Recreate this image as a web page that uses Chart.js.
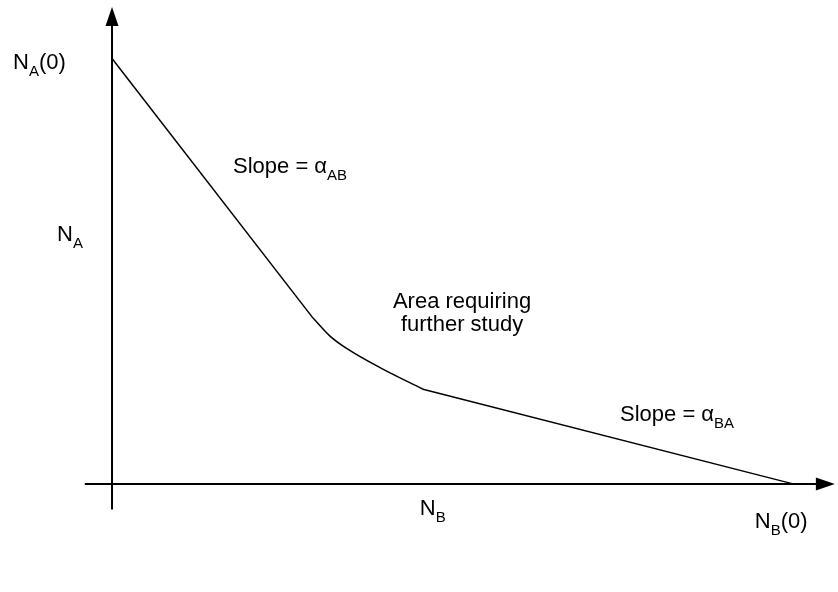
<!DOCTYPE html>
<html>
<head>
<meta charset="utf-8">
<script src="https://cdn.jsdelivr.net/npm/chart.js@4/dist/chart.umd.min.js"></script>
<style>
html,body{margin:0;padding:0;background:#fff;}
#wrap{width:838px;height:592px;position:relative;}
</style>
</head>
<body>
<div id="wrap"><canvas id="c"></canvas></div>
<script>
// Curve N_A versus N_B (fractions of N_B(0) and N_A(0))
const curveNB = [0, 0.2952, 0.3201, 0.3451, 0.3935, 0.4567, 1];
const curveNA = [1, 0.3898, 0.3475, 0.3178, 0.2733, 0.2225, 0];
// indices where the bent ("further study") part begins and ends
const bendStart = 1, bendEnd = 5;

// Text annotations
const labelMain = ["N", "Slope = \u03B1", "N", "Area requiring", "further study", "Slope = \u03B1", "N", "N"];
const labelSub  = ["A", "AB", "A", "", "", "BA", "B", "B"];
const labelTail = ["(0)", "", "", "", "", "", "", "(0)"];

const anchors = [
  {x:-0.1454, y:0.9746, align:'left'},
  {x:0.1777, y:0.7309, align:'left'},
  {x:-0.0808, y:0.5699, align:'left'},
  {x:0.514, y:0.4131, align:'center'},
  {x:0.514, y:0.3602, align:'center'},
  {x:0.746, y:0.1483, align:'left'},
  {x:0.452, y:-0.0742, align:'left'},
  {x:0.944, y:-0.1038, align:'left'}
];

const FONT = '"Liberation Sans", Arial, sans-serif';
const MAIN = 22, SUB = 15;

const pts = curveNB.map((v, i) => ({x: v, y: curveNA[i]}));

const axesPlugin = {
  id: 'axesPlugin',
  afterDatasetsDraw(chart) {
    const ctx = chart.ctx, xs = chart.scales.x, ys = chart.scales.y;
    const x0 = xs.getPixelForValue(0), y0 = ys.getPixelForValue(0);
    ctx.save();
    ctx.strokeStyle = '#000'; ctx.fillStyle = '#000'; ctx.lineWidth = 2;
    // y axis
    const yTop = ys.getPixelForValue(1.121), yBot = ys.getPixelForValue(-0.06);
    ctx.beginPath(); ctx.moveTo(x0, yBot); ctx.lineTo(x0, yTop + 14); ctx.stroke();
    ctx.beginPath(); ctx.moveTo(x0, yTop); ctx.lineTo(x0 - 6.5, yTop + 19); ctx.lineTo(x0 + 6.5, yTop + 19); ctx.closePath(); ctx.fill();
    // x axis
    const xL = xs.getPixelForValue(-0.04), xR = xs.getPixelForValue(1.0615);
    ctx.beginPath(); ctx.moveTo(xL, y0); ctx.lineTo(xR - 14, y0); ctx.stroke();
    ctx.beginPath(); ctx.moveTo(xR, y0); ctx.lineTo(xR - 19, y0 - 6.5); ctx.lineTo(xR - 19, y0 + 6.5); ctx.closePath(); ctx.fill();
    // labels
    ctx.textBaseline = 'alphabetic';
    for (let i = 0; i < labelMain.length; i++) {
      const a = anchors[i];
      let px = xs.getPixelForValue(a.x), py = ys.getPixelForValue(a.y);
      ctx.font = MAIN + 'px ' + FONT;
      const w1 = ctx.measureText(labelMain[i]).width;
      const w3 = ctx.measureText(labelTail[i]).width;
      ctx.font = SUB + 'px ' + FONT;
      const w2 = ctx.measureText(labelSub[i]).width;
      const total = w1 + w2 + w3;
      if (a.align === 'center') px -= total / 2;
      ctx.textAlign = 'left';
      ctx.font = MAIN + 'px ' + FONT;
      ctx.fillText(labelMain[i], px, py);
      ctx.font = SUB + 'px ' + FONT;
      ctx.fillText(labelSub[i], px + w1, py + 7);
      ctx.font = MAIN + 'px ' + FONT;
      ctx.fillText(labelTail[i], px + w1 + w2, py);
    }
    ctx.restore();
  }
};

const lineStyle = {showLine: true, borderColor: '#000', borderWidth: 1.5, pointRadius: 0, fill: false};

new Chart(document.getElementById('c'), {
  type: 'scatter',
  data: {
    datasets: [
      Object.assign({data: pts.slice(0, bendStart + 1), tension: 0}, lineStyle),
      Object.assign({data: pts.slice(bendStart, bendEnd + 1), cubicInterpolationMode: 'monotone'}, lineStyle),
      Object.assign({data: pts.slice(bendEnd), tension: 0}, lineStyle)
    ]
  },
  options: {
    responsive: true,
    maintainAspectRatio: false,
    animation: false,
    layout: {padding: 0},
    plugins: {legend: {display: false}, tooltip: {enabled: false}},
    scales: {
      x: {type: 'linear', display: false, min: -0.1645, max: 1.0661},
      y: {type: 'linear', display: false, min: -0.2542, max: 1.1377}
    }
  },
  plugins: [axesPlugin]
});
</script>
</body>
</html>
